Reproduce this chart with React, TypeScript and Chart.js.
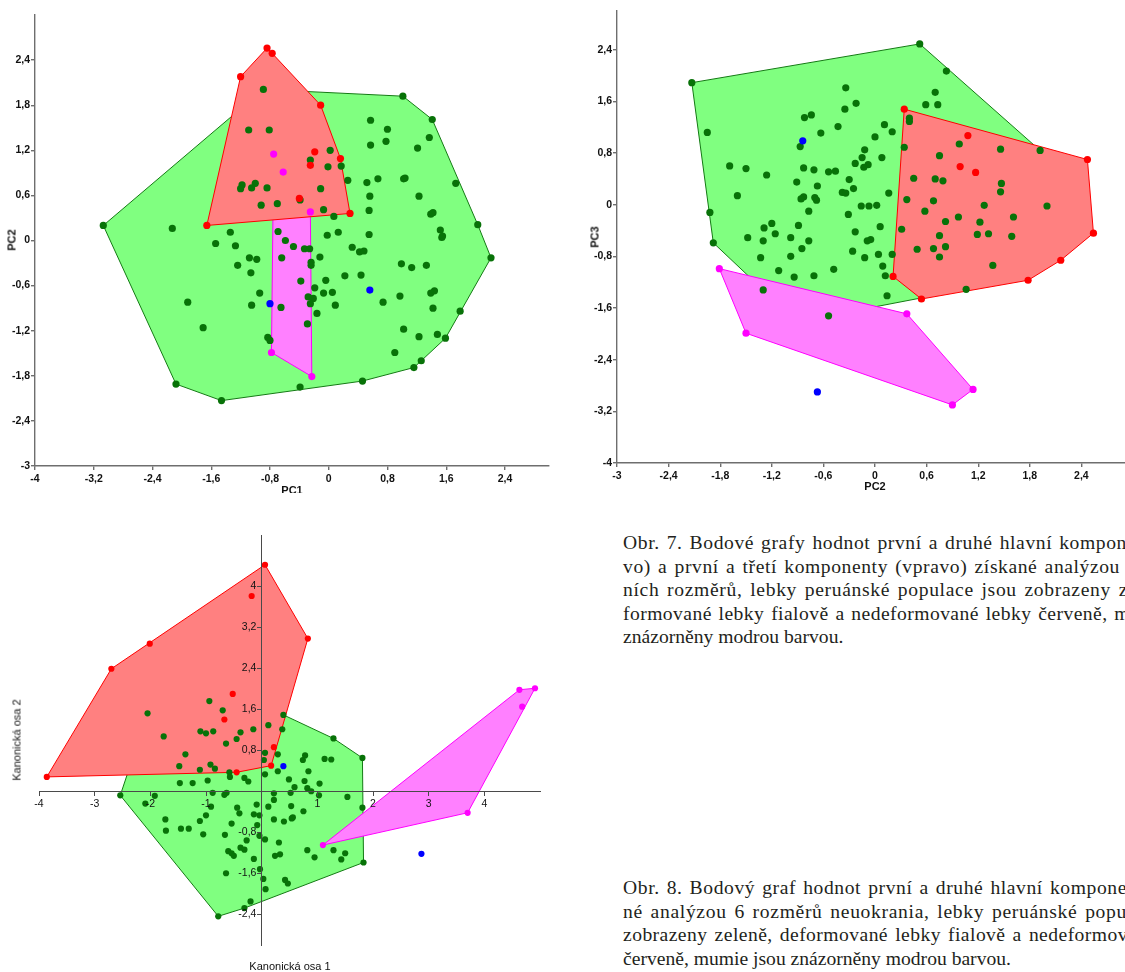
import React, { useEffect, useLayoutEffect, useRef } from 'react';
import { Chart, registerables } from 'chart.js';
Chart.register(...registerables);

type P = [number, number];

// ---------- Chart 1: PC1 x PC2 ----------
const c1Green: P[] = [[-0.89,2.01],[1.01,1.92],[1.41,1.61],[0.57,1.60],[0.80,1.48],[-1.09,1.47],[-0.81,1.47],[1.37,1.37],[0.78,1.32],[0.57,1.27],[1.21,1.23],[0.02,1.20],[-0.25,1.07],[0.17,0.99],[-0.01,0.98],[1.04,0.83],[1.02,0.82],[0.67,0.82],[0.26,0.80],[0.52,0.77],[1.73,0.76],[-1.18,0.74],[-1.20,0.69],[-1.00,0.76],[-1.05,0.70],[-0.84,0.70],[-0.11,0.69],[0.56,0.59],[1.23,0.59],[-0.39,0.54],[-0.70,0.49],[-0.92,0.47],[-0.07,0.41],[0.55,0.40],[1.39,0.35],[1.42,0.37],[0.07,0.32],[2.03,0.21],[-2.13,0.16],[-1.34,0.11],[-0.69,0.12],[0.13,0.11],[-0.02,0.07],[0.55,0.08],[1.52,0.14],[1.54,0.04],[1.55,0.06],[-0.59,0.00],[-1.54,-0.04],[-1.27,-0.07],[-0.48,-0.08],[-0.33,-0.11],[-0.26,-0.11],[0.32,-0.09],[0.42,-0.15],[0.48,-0.14],[2.21,-0.23],[-1.08,-0.23],[-0.98,-0.25],[-0.64,-0.23],[-0.12,-0.22],[-0.24,-0.29],[-0.24,-0.33],[-1.24,-0.33],[0.99,-0.31],[1.13,-0.36],[1.33,-0.33],[-1.06,-0.43],[0.22,-0.47],[0.44,-0.46],[-0.38,-0.54],[-0.04,-0.53],[-0.19,-0.63],[1.44,-0.67],[1.39,-0.70],[-0.94,-0.70],[-0.07,-0.70],[0.05,-0.69],[-0.28,-0.75],[-0.21,-0.77],[0.97,-0.74],[-1.92,-0.82],[-0.25,-0.84],[0.74,-0.82],[-1.05,-0.86],[-0.65,-0.89],[0.09,-0.86],[1.42,-0.90],[1.79,-0.94],[-0.16,-0.97],[-0.29,-1.11],[-1.71,-1.16],[1.02,-1.18],[-0.83,-1.29],[-0.80,-1.33],[1.23,-1.28],[1.48,-1.25],[1.59,-1.30],[0.90,-1.49],[1.26,-1.60],[1.16,-1.69],[-2.08,-1.91],[-0.39,-1.95],[0.46,-1.87],[-1.46,-2.13],[-3.07,0.20]];
const c1Red: P[] = [[-0.84,2.56],[-0.77,2.49],[-1.20,2.18],[-0.11,1.80],[-0.19,1.18],[0.16,1.09],[-0.25,1.00],[-0.40,0.56],[0.29,0.36],[-1.66,0.20]];
const c1Magenta: P[] = [[-0.75,1.15],[-0.62,0.91],[-0.25,0.38],[-0.78,-1.49],[-0.23,-1.81]];
const c1Blue: P[] = [[-0.80,-0.84],[0.56,-0.66]];
const c1XTicks = [-4,-3.2,-2.4,-1.6,-0.8,0,0.8,1.6,2.4];
const c1YTicks = [-3,-2.4,-1.8,-1.2,-0.6,0,0.6,1.2,1.8,2.4];

// ---------- Chart 2: PC2 x PC3 ----------
const c2Green: P[] = [[-2.13,1.89],[0.52,2.49],[0.83,2.07],[-0.34,1.81],[0.70,1.74],[-0.22,1.57],[0.59,1.55],[0.73,1.55],[-0.35,1.48],[-0.74,1.39],[-0.82,1.35],[0.40,1.34],[0.40,1.29],[-0.43,1.21],[0.11,1.24],[-1.95,1.12],[-0.63,1.11],[0.20,1.13],[0.00,1.05],[-0.87,0.90],[-0.12,0.85],[0.34,0.89],[0.98,0.94],[1.46,0.86],[1.92,0.84],[-0.15,0.73],[0.08,0.73],[0.75,0.76],[-0.23,0.64],[-1.69,0.60],[-1.50,0.56],[-0.83,0.57],[-0.71,0.54],[-0.08,0.62],[-0.13,0.58],[-0.54,0.51],[-0.46,0.52],[-1.26,0.46],[-0.30,0.39],[0.45,0.41],[0.70,0.40],[0.79,0.37],[-0.91,0.35],[1.47,0.33],[-0.67,0.29],[-0.25,0.25],[-0.38,0.19],[-0.34,0.18],[0.16,0.18],[1.46,0.20],[-1.60,0.14],[-0.83,0.12],[-0.86,0.09],[-0.70,0.11],[-0.68,0.07],[0.37,0.08],[0.68,0.06],[-0.16,-0.02],[-0.07,-0.02],[0.02,-0.01],[1.27,-0.01],[2.00,-0.02],[-0.77,-0.10],[0.58,-0.10],[-1.92,-0.12],[-0.31,-0.15],[0.97,-0.19],[1.61,-0.19],[-1.20,-0.29],[0.82,-0.26],[1.22,-0.27],[-0.89,-0.32],[-1.29,-0.36],[0.06,-0.34],[0.31,-0.38],[-1.16,-0.45],[-0.23,-0.42],[1.19,-0.46],[1.32,-0.45],[0.75,-0.48],[1.59,-0.49],[-1.48,-0.51],[-0.98,-0.51],[-1.30,-0.56],[-0.05,-0.54],[-0.09,-0.56],[-0.77,-0.56],[-1.88,-0.59],[-0.85,-0.68],[0.49,-0.69],[0.68,-0.68],[0.82,-0.65],[-0.26,-0.72],[0.04,-0.77],[0.20,-0.77],[-1.33,-0.82],[-0.98,-0.80],[-0.12,-0.82],[0.75,-0.81],[1.37,-0.94],[0.09,-0.95],[-0.48,-1.00],[-1.12,-1.02],[-0.71,-1.10],[-0.94,-1.12],[0.12,-1.10],[1.06,-1.31],[-1.30,-1.32],[0.14,-1.41],[-0.54,-1.72]];
const c2Red: P[] = [[0.34,1.48],[1.08,1.07],[0.99,0.59],[1.17,0.50],[2.47,0.70],[2.54,-0.44],[2.16,-0.86],[1.78,-1.17],[0.54,-1.46],[0.21,-1.11]];
const c2Magenta: P[] = [[-1.81,-0.99],[-1.50,-1.99],[0.37,-1.69],[1.14,-2.86],[0.90,-3.10]];
const c2Blue: P[] = [[-0.84,0.99],[-0.67,-2.90]];
const c2XTicks = [-3,-2.4,-1.8,-1.2,-0.6,0,0.6,1.2,1.8,2.4];
const c2YTicks = [-4,-3.2,-2.4,-1.6,-0.8,0,0.8,1.6,2.4];

// ---------- Chart 3: Kanonická osa 1 x 2 ----------
const c3Green: P[] = [[-0.94,1.76],[0.39,1.49],[-0.70,1.58],[-2.05,1.52],[0.12,1.29],[-0.15,1.21],[0.37,1.21],[-1.10,1.17],[-1.00,1.13],[-0.87,1.17],[-0.38,1.15],[-1.76,1.07],[-0.45,1.02],[1.29,1.03],[-0.64,0.93],[0.06,0.75],[-1.37,0.72],[1.81,0.65],[0.78,0.70],[0.74,0.61],[1.13,0.63],[1.25,0.62],[0.04,0.61],[0.29,0.72],[-0.92,0.52],[-0.84,0.44],[-1.48,0.49],[-1.11,0.42],[-0.58,0.37],[-0.57,0.28],[-0.31,0.26],[-0.24,0.19],[0.06,0.33],[0.29,0.39],[0.49,0.23],[0.84,0.39],[0.77,0.20],[-0.97,0.21],[-1.47,0.16],[-1.24,0.16],[0.59,0.08],[0.82,0.06],[0.89,0.00],[1.04,0.15],[0.52,-0.03],[0.22,-0.04],[-0.88,-0.03],[-0.67,-0.07],[-0.63,-0.03],[1.03,-0.08],[1.54,-0.11],[-2.54,-0.08],[-1.92,-0.09],[-2.09,-0.24],[0.22,-0.17],[-0.91,-0.30],[-0.09,-0.26],[0.12,-0.30],[0.53,-0.29],[-0.44,-0.32],[1.81,-0.32],[-0.40,-0.43],[-1.00,-0.47],[-0.14,-0.45],[-0.04,-0.47],[0.75,-0.39],[-1.73,-0.55],[-1.11,-0.58],[0.22,-0.55],[0.40,-0.59],[0.54,-0.53],[0.56,-0.51],[-0.54,-0.63],[-0.08,-0.66],[-1.45,-0.73],[-1.31,-0.73],[-1.72,-0.77],[-1.05,-0.84],[-0.66,-0.85],[-0.04,-0.87],[0.06,-0.94],[-0.27,-0.96],[0.31,-1.00],[-0.38,-1.10],[-0.31,-1.14],[-0.60,-1.17],[-0.54,-1.21],[-0.50,-1.26],[0.82,-1.15],[1.29,-1.15],[1.50,-1.21],[1.43,-1.33],[0.95,-1.29],[0.24,-1.26],[0.33,-1.23],[-0.14,-1.32],[1.83,-1.39],[-0.03,-1.52],[-0.64,-1.60],[0.03,-1.71],[0.42,-1.73],[0.47,-1.80],[0.07,-1.91],[-0.20,-2.15],[-0.31,-2.28],[-0.78,-2.44]];
const c3Red: P[] = [[0.06,4.42],[-0.18,3.81],[0.83,2.98],[-2.01,2.88],[-2.70,2.39],[-0.52,1.90],[-0.67,1.40],[0.22,0.86],[0.17,0.50],[-0.45,0.37],[-3.86,0.28]];
const c3Magenta: P[] = [[4.63,1.98],[4.91,2.01],[4.68,1.65],[3.70,-0.42],[1.10,-1.05]];
const c3Blue: P[] = [[0.39,0.49],[2.87,-1.22]];
const c3XTicks = [-4,-3,-2,-1,1,2,3,4];
const c3YTicks = [-2.4,-1.6,-0.8,0.8,1.6,2.4,3.2,4];

// ---------- Captions ----------
const caption7: { text: string; end?: number }[] = [
  { text: 'Obr. 7. Bodové grafy hodnot první a druhé hlavní kompon', end: 1127 },
  { text: 'vo) a první a třetí komponenty (vpravo) získané analýzou', end: 1120 },
  { text: 'ních rozměrů, lebky peruánské populace jsou zobrazeny z', end: 1128 },
  { text: 'formované lebky fialově a nedeformované lebky červeně, m', end: 1130 },
  { text: 'znázorněny modrou barvou.' },
];
const caption8: { text: string; end?: number }[] = [
  { text: 'Obr. 8. Bodový graf hodnot první a druhé hlavní kompone', end: 1127 },
  { text: 'né analýzou 6 rozměrů neuokrania, lebky peruánské popu', end: 1127 },
  { text: 'zobrazeny zeleně, deformované lebky fialově a nedeformov', end: 1128 },
  { text: 'červeně, mumie jsou znázorněny modrou barvou.' },
];

const GREEN_PT = '#087208';
const GREEN_FILL = '#80ff80';
const GREEN_LINE = '#137a13';
const RED = '#ff0000';
const RED_FILL = '#ff8080';
const MAG = '#ff00ff';
const MAG_FILL = '#ff80ff';
const BLUE = '#0000ff';

function convexHull(pts: P[]): P[] {
  const s = [...pts].sort((a, b) => a[0] - b[0] || a[1] - b[1]);
  const cross = (o: P, a: P, b: P) => (a[0] - o[0]) * (b[1] - o[1]) - (a[1] - o[1]) * (b[0] - o[0]);
  const lower: P[] = [];
  for (const p of s) {
    while (lower.length >= 2 && cross(lower[lower.length - 2], lower[lower.length - 1], p) <= 0) lower.pop();
    lower.push(p);
  }
  const upper: P[] = [];
  for (let i = s.length - 1; i >= 0; i--) {
    const p = s[i];
    while (upper.length >= 2 && cross(upper[upper.length - 2], upper[upper.length - 1], p) <= 0) upper.pop();
    upper.push(p);
  }
  lower.pop();
  upper.pop();
  const h = lower.concat(upper);
  return [...h, h[0]];
}

const fmt = (v: number) => String(Math.round(v * 10) / 10).replace('.', ',');
const toXY = (a: P[]) => a.map(([x, y]) => ({ x, y }));

interface Spec {
  left: number; top: number; w: number; h: number;
  padding: { left: number; right: number; top: number; bottom: number };
  yAxisW: number; xAxisH: number;
  xMin: number; xMax: number; yMin: number; yMax: number;
  xTicks: number[]; yTicks: number[];
  centered: boolean;
  green: P[]; red: P[]; magenta: P[]; blue: P[];
  r: number;
  bold: boolean; fontSize: number;
  axisColor: string; axisWidth: number;
  tickLen: number; xPad: number; yPad: number;
}

function buildConfig(s: Spec): any {
  const hullDs = (pts: P[], fillC: string, lineC: string, order: number) => ({
    data: toXY(convexHull(pts)),
    showLine: true,
    fill: 'shape',
    backgroundColor: fillC,
    borderColor: lineC,
    borderWidth: 1,
    pointRadius: 0,
    pointHoverRadius: 0,
    tension: 0,
    order,
  });
  const ptDs = (pts: P[], color: string, order: number) => ({
    data: toXY(pts),
    showLine: false,
    backgroundColor: color,
    borderColor: color,
    borderWidth: 0,
    pointRadius: s.r,
    pointHoverRadius: s.r,
    order,
  });
  const font = { family: "'Liberation Sans', Arial, sans-serif", size: s.fontSize, weight: s.bold ? 'bold' : 'normal' };
  const zTop = s.centered ? 1 : 0;
  const common = (ticksArr: number[], pad: number, suffix: string) => ({
    type: 'linear',
    afterBuildTicks: (scale: any) => { scale.ticks = ticksArr.map((v) => ({ value: v })); },
    ticks: {
      autoSkip: false, maxRotation: 0, minRotation: 0,
      font, color: '#111', padding: pad, z: zTop,
      callback: (v: number) => fmt(v) + suffix,
    },
    grid: { display: true, drawOnChartArea: false, drawTicks: true, tickLength: s.tickLen, color: s.axisColor, lineWidth: s.axisWidth, z: s.centered ? 1 : -1 },
    border: { display: true, color: s.axisColor, width: s.axisWidth, z: zTop },
  });
  return {
    type: 'scatter',
    data: {
      datasets: [
        hullDs(s.green, GREEN_FILL, GREEN_LINE, 10),
        hullDs(s.magenta, MAG_FILL, MAG, 9),
        hullDs(s.red, RED_FILL, RED, 8),
        ptDs(s.green, GREEN_PT, 4),
        ptDs(s.red, RED, 3),
        ptDs(s.magenta, MAG, 2),
        ptDs(s.blue, BLUE, 1),
      ],
    },
    options: {
      animation: false,
      responsive: false,
      maintainAspectRatio: false,
      events: [],
      layout: { padding: s.padding },
      plugins: { legend: { display: false }, tooltip: { enabled: false }, title: { display: false } },
      scales: {
        x: {
          ...common(s.xTicks, s.xPad, ''),
          min: s.xMin, max: s.xMax,
          position: s.centered ? { y: 0 } : 'bottom',
          afterFit: (scale: any) => { scale.height = s.xAxisH; },
        },
        y: {
          // centred y axis: keep a small gap (en space) between label and tick mark
          ...common(s.yTicks, s.yPad, s.centered ? '\u2002' : ''),
          min: s.yMin, max: s.yMax,
          position: s.centered ? { x: 0 } : 'left',
          afterFit: (scale: any) => { scale.width = s.yAxisW; },
        },
      },
    },
  };
}

const spec1: Spec = {
  left: 0, top: 0, w: 560, h: 493,
  padding: { left: 0, right: 11, top: 15, bottom: 0 },
  yAxisW: 35, xAxisH: 27,
  xMin: -4, xMax: 3, yMin: -3, yMax: 3,
  xTicks: c1XTicks, yTicks: c1YTicks, centered: false,
  green: c1Green, red: c1Red, magenta: c1Magenta, blue: c1Blue,
  r: 3.6, bold: true, fontSize: 10.5, axisColor: '#6e6e6e', axisWidth: 1.4, tickLen: 4, xPad: 3, yPad: 1,
};
const spec2: Spec = {
  left: 570, top: 0, w: 600, h: 493,
  padding: { left: 0, right: 37, top: 11, bottom: 0 },
  yAxisW: 47, xAxisH: 30,
  xMin: -3, xMax: 3, yMin: -4, yMax: 3,
  xTicks: c2XTicks, yTicks: c2YTicks, centered: false,
  green: c2Green, red: c2Red, magenta: c2Magenta, blue: c2Blue,
  r: 3.6, bold: true, fontSize: 10.5, axisColor: '#6e6e6e', axisWidth: 1.4, tickLen: 4, xPad: 3, yPad: 1,
};
const spec3: Spec = {
  left: 0, top: 520, w: 560, h: 440,
  padding: { left: 39, right: 20, top: 15, bottom: 15 },
  yAxisW: 0, xAxisH: 0,
  xMin: -4, xMax: 5, yMin: -3, yMax: 5,
  xTicks: c3XTicks, yTicks: c3YTicks, centered: true,
  green: c3Green, red: c3Red, magenta: c3Magenta, blue: c3Blue,
  r: 3.1, bold: false, fontSize: 10.5, axisColor: '#4a4a4a', axisWidth: 1, tickLen: 4, xPad: 3, yPad: 1,
};

function ScatterChart({ spec }: { spec: Spec }) {
  const ref = useRef<HTMLCanvasElement>(null);
  useEffect(() => {
    const chart = new Chart(ref.current as HTMLCanvasElement, buildConfig(spec));
    return () => chart.destroy();
  }, []);
  return (
    <canvas
      ref={ref}
      width={spec.w}
      height={spec.h}
      style={{ position: 'absolute', left: spec.left, top: spec.top, width: spec.w, height: spec.h }}
    />
  );
}

function AxisTitle({ text, cx, cy, rotate, bold }: { text: string; cx: number; cy: number; rotate?: boolean; bold?: boolean }) {
  return (
    <div
      style={{
        position: 'absolute', left: cx, top: cy,
        transform: `translate(-50%, -50%)${rotate ? ' rotate(-90deg)' : ''}`,
        whiteSpace: 'nowrap',
        fontFamily: "'Liberation Sans', Arial, sans-serif",
        fontSize: 11, fontWeight: bold ? 'bold' : 'normal', color: '#111', lineHeight: '13px',
      }}
    >
      {text}
    </div>
  );
}

function Caption({ left, top, lines }: { left: number; top: number; lines: { text: string; end?: number }[] }) {
  const refs = useRef<(HTMLSpanElement | null)[]>([]);
  useLayoutEffect(() => {
    lines.forEach((ln, i) => {
      const el = refs.current[i];
      if (!el || ln.end == null) return;
      el.style.letterSpacing = '0px';
      el.style.wordSpacing = '0px';
      const w = el.getBoundingClientRect().width;
      const extra = ln.end - left - w;
      const spaces = (ln.text.match(/ /g) || []).length;
      const chars = ln.text.length;
      const ls = (extra * 0.7) / chars;
      const ws = spaces ? (extra * 0.3) / spaces : 0;
      el.style.letterSpacing = `${ls}px`;
      el.style.wordSpacing = `${ws}px`;
    });
  }, []);
  return (
    <div
      style={{
        position: 'absolute', left, top,
        fontFamily: "'Liberation Serif', 'Times New Roman', serif",
        fontSize: '19.6px', lineHeight: '23.5px', color: '#231f20',
      }}
    >
      {lines.map((ln, i) => (
        <div key={i} style={{ whiteSpace: 'nowrap', height: 23.5 }}>
          <span ref={(el) => { refs.current[i] = el; }} style={{ whiteSpace: 'pre' }}>{ln.text}</span>
        </div>
      ))}
    </div>
  );
}

export default function App() {
  return (
    <div style={{ position: 'absolute', left: 0, top: 0, width: 1125, height: 972, overflow: 'hidden', background: '#fff' }}>
      <div style={{ position: 'absolute', left: 0, top: 0, width: 1125, height: 493, overflow: 'hidden' }}>
        <ScatterChart spec={spec1} />
        <AxisTitle text="PC2" cx={12} cy={240} rotate bold />
        <AxisTitle text="PC1" cx={292} cy={490} bold />
        <ScatterChart spec={spec2} />
        <AxisTitle text="PC3" cx={595} cy={237} rotate bold />
        <AxisTitle text="PC2" cx={875} cy={486} bold />
      </div>
      <ScatterChart spec={spec3} />
      <AxisTitle text="Kanonická osa 2" cx={17} cy={740} rotate />
      <AxisTitle text="Kanonická osa 1" cx={290} cy={966} />
      <Caption left={623} top={531} lines={caption7} />
      <Caption left={623} top={876} lines={caption8} />
    </div>
  );
}
